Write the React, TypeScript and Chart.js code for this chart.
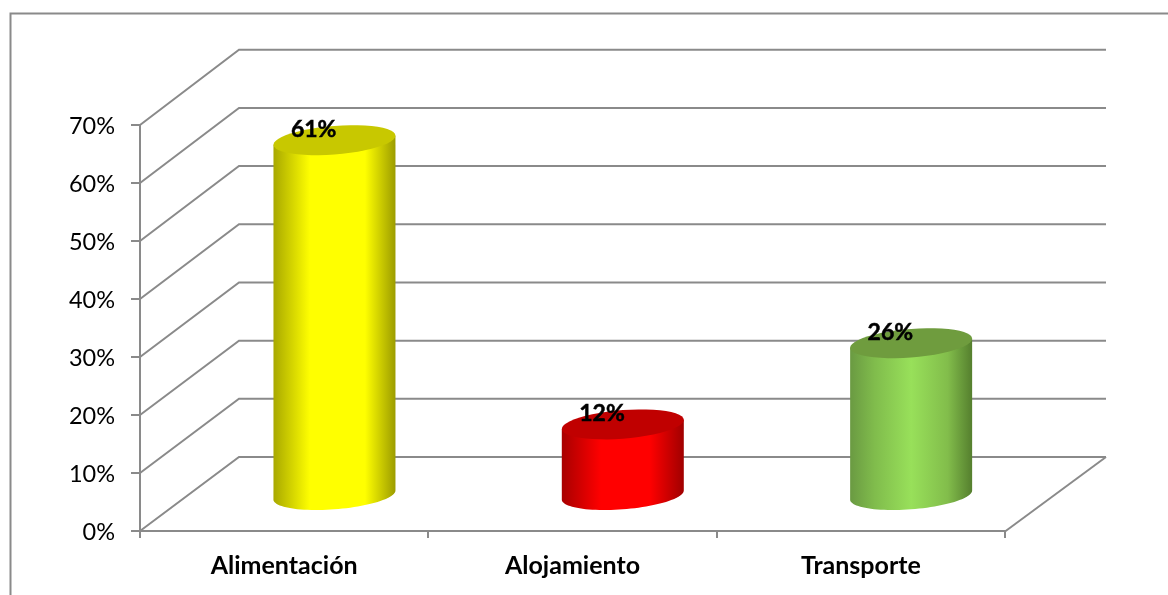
import React, { useEffect, useRef } from "react";
import { Chart, registerables } from "chart.js";

Chart.register(...registerables);

const categories = ["Alimentación", "Alojamiento", "Transporte"];
const shares = [61, 12, 26];
const barColors = ["#ffff00", "#ff0000", "#98e05a"];
const topColors = ["#c8c800", "#c00000", "#6f9c3e"];
const shadeStops: [number, string][][] = [
  [[0, "#a8a800"], [0.3, "#ffff00"], [0.75, "#ffff00"], [1, "#9c9c00"]],
  [[0, "#a80000"], [0.32, "#ff0000"], [0.72, "#ff0000"], [1, "#a00000"]],
  [[0, "#6a9a42"], [0.2, "#80bc4c"], [0.5, "#98e05a"], [0.8, "#82bd4b"], [1, "#557f2e"]],
];

const AXIS_MAX = 70;
const AXIS_STEP = 10;
const GRID = "#8a8a8a";
const DEPTH_X = 99;
const RADIUS_X = 61;
const RADIUS_Y = 14.3;
const SHEAR = -0.075;

function ellipsePath(ctx: CanvasRenderingContext2D, cx: number, cy: number, start: number, end: number) {
  const steps = 48;
  for (let i = 0; i <= steps; i++) {
    const a = start + ((end - start) * i) / steps;
    const x = RADIUS_X * Math.cos(a);
    const y = RADIUS_Y * Math.sin(a) + SHEAR * x;
    ctx.lineTo(cx + x, cy + y);
  }
}

const scene3d = {
  id: "scene3d",
  beforeDraw(chart: any) {
    const { ctx, width, height, scales } = chart;
    ctx.save();
    ctx.strokeStyle = GRID;
    ctx.lineWidth = 2;
    ctx.beginPath();
    ctx.moveTo(10.5, height + 2);
    ctx.lineTo(10.5, 13.5);
    ctx.lineTo(width + 2, 13.5);
    ctx.stroke();

    const y = scales.y;
    const x = scales.x;
    y.ticks.forEach((t: any) => {
      const py = y.getPixelForValue(t.value);
      const dy = 74 + (1.3 * t.value) / AXIS_MAX;
      ctx.beginPath();
      ctx.moveTo(x.left, py);
      ctx.lineTo(x.left + DEPTH_X, py - dy);
      ctx.lineTo(x.right + DEPTH_X + 2, py - dy);
      ctx.stroke();
    });
    ctx.beginPath();
    ctx.moveTo(x.right, y.bottom + 0.5);
    ctx.lineTo(x.right + DEPTH_X + 2, y.bottom - 74);
    ctx.stroke();
    ctx.restore();
  },
  beforeDatasetDraw(chart: any, args: any) {
    const { ctx } = chart;
    const meta = chart.getDatasetMeta(args.index);
    const baseY = chart.scales.y.getPixelForValue(0);
    meta.data.forEach((bar: any, i: number) => {
      const cx = bar.x + 50.3;
      const top = bar.y - 37;
      const bottom = baseY - 36;
      const g = ctx.createLinearGradient(cx - RADIUS_X, 0, cx + RADIUS_X, 0);
      shadeStops[i].forEach(([o, c]) => g.addColorStop(o, c));
      ctx.save();
      ctx.fillStyle = g;
      ctx.beginPath();
      ctx.moveTo(cx - RADIUS_X, top - SHEAR * RADIUS_X);
      ellipsePath(ctx, cx, bottom, Math.PI, 0);
      ctx.lineTo(cx + RADIUS_X, top + SHEAR * RADIUS_X);
      ctx.closePath();
      ctx.fill();
      ctx.fillStyle = topColors[i];
      ctx.beginPath();
      ellipsePath(ctx, cx, top, 0, Math.PI * 2);
      ctx.closePath();
      ctx.fill();
      ctx.restore();
    });
    return false;
  },
  afterDatasetsDraw(chart: any) {
    const { ctx } = chart;
    const meta = chart.getDatasetMeta(0);
    ctx.save();
    ctx.fillStyle = "#000000";
    ctx.strokeStyle = "#000000";
    ctx.lineWidth = 0.5;
    ctx.font = "bold 23px Lato";
    ctx.textAlign = "center";
    ctx.textBaseline = "middle";
    meta.data.forEach((bar: any, i: number) => {
      const label = shares[i] + "%";
      ctx.fillText(label, bar.x + 29.5, bar.y - 48);
      ctx.strokeText(label, bar.x + 29.5, bar.y - 48);
    });
    ctx.restore();
  },
};

export default function App() {
  const ref = useRef<HTMLCanvasElement>(null);
  useEffect(() => {
    document.body.style.margin = "0";
    document.body.style.overflow = "hidden";
    const chart = new Chart(ref.current!, {
      type: "bar",
      data: {
        labels: categories,
        datasets: [{ data: shares, backgroundColor: barColors }],
      },
      options: {
        responsive: false,
        animation: false,
        devicePixelRatio: 1,
        layout: { padding: { left: 0, top: 125, right: 163, bottom: 0 } },
        plugins: { legend: { display: false }, tooltip: { enabled: false } },
        scales: {
          x: {
            afterFit: (s: any) => { s.height = 64; },
            grid: { drawOnChartArea: false, color: GRID, tickLength: 7, lineWidth: 2 },
            border: { color: GRID, width: 2 },
            ticks: { color: "#000000", font: { family: "Lato", size: 25, weight: "bold" }, padding: 13, maxRotation: 0 },
          },
          y: {
            min: 0,
            max: AXIS_MAX,
            afterFit: (s: any) => { s.width = 140; },
            grid: { drawOnChartArea: false, color: GRID, tickLength: 9, lineWidth: 2 },
            border: { color: GRID, width: 2 },
            ticks: {
              stepSize: AXIS_STEP,
              color: "#000000",
              font: { family: "Lato", size: 23.5 },
              padding: 16,
              labelOffset: 1,
              callback: (v: any) => v + "%",
            },
          },
        },
      },
      plugins: [scene3d],
    } as any);
    return () => chart.destroy();
  }, []);
  return <canvas ref={ref} width={1168} height={595} style={{ display: "block" }} />;
}
